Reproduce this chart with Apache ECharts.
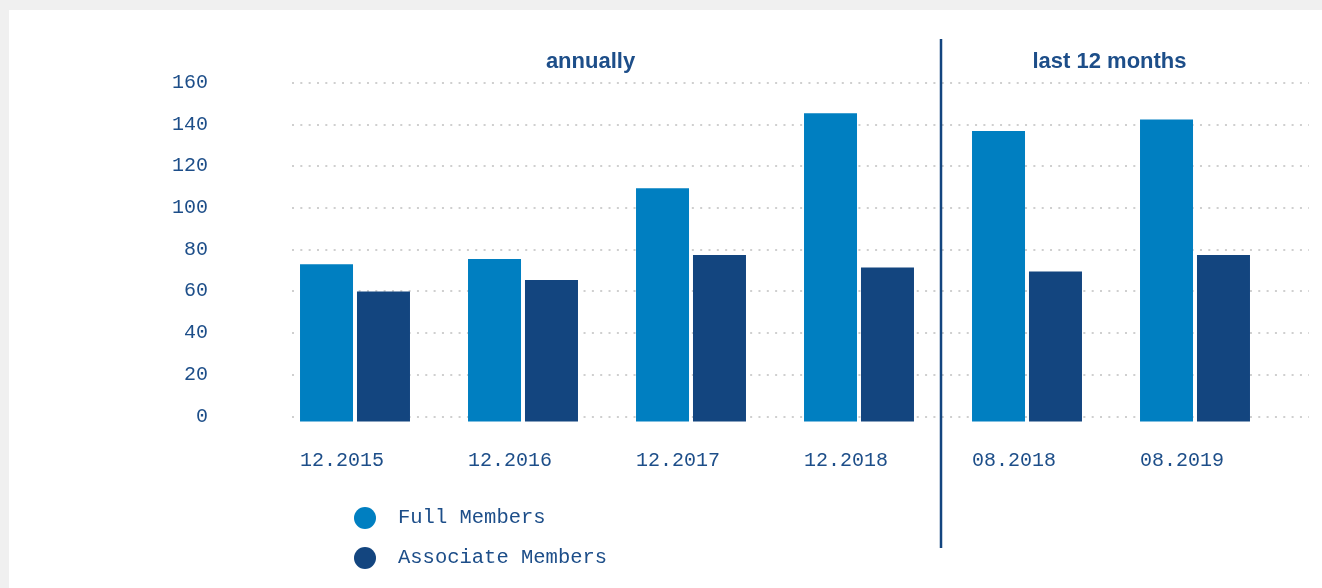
<!DOCTYPE html>
<html>
<head>
<meta charset="utf-8">
<script src="https://cdn.jsdelivr.net/npm/echarts@6/dist/echarts.min.js"></script>
<style>
  html, body { margin: 0; padding: 0; background: #f0f0f0; width: 1322px; height: 588px; overflow: hidden; }
  #panel { position: absolute; left: 9px; top: 10px; width: 1313px; height: 578px; background: #ffffff; }
  #chart { position: absolute; left: 0; top: 0; width: 1322px; height: 588px; }
</style>
</head>
<body>
<div id="panel"></div>
<div id="chart"></div>
<script>
// ---- data ----
const categories = ['12.2015', '12.2016', '12.2017', '12.2018', '08.2018', '08.2019'];
const fullMembers = [75.5, 78, 112, 148, 139.5, 145];
const associateMembers = [62.5, 68, 80, 74, 72, 80];
const seriesNames = ['Full Members', 'Associate Members'];
const sectionTitles = ['annually', 'last 12 months'];
const yMin = 0, yMax = 160, yStep = 20;

// ---- style ----
const MONO = "'Liberation Mono', 'DejaVu Sans Mono', monospace";
const SANS = "'Liberation Sans', Arial, sans-serif";
const TEXT = '#1d4e89';
const FULL = '#007fc1';
const ASSOC = '#13457f';

const chart = echarts.init(document.getElementById('chart'), null, { renderer: 'canvas' });

chart.setOption({
  backgroundColor: 'transparent',
  animation: false,
  grid: [
    { left: 292, right: 13, top: 82.7, bottom: 171.7, containLabel: false },
    { left: 271, right: 43, top: 88.3, bottom: 166.4, containLabel: false }
  ],
  xAxis: [
    { gridIndex: 0, type: 'category', data: categories, show: false },
    {
      gridIndex: 1, type: 'category', data: categories,
      axisLine: { show: false }, axisTick: { show: false }, splitLine: { show: false },
      axisLabel: {
        color: TEXT, fontFamily: MONO, fontSize: 20, margin: 39.5,
        verticalAlign: 'middle', align: 'center', padding: [0, 26, 0, 0]
      }
    }
  ],
  yAxis: [
    {
      gridIndex: 0, type: 'value', min: yMin, max: yMax, interval: yStep,
      axisLine: { show: false }, axisTick: { show: false },
      axisLabel: { color: TEXT, fontFamily: MONO, fontSize: 20, margin: 84, verticalAlign: 'middle', padding: [3, 0, 0, 0] },
      splitLine: { show: true, lineStyle: { color: '#cfcfcf', width: 2, type: [2, 6.33] } }
    },
    {
      gridIndex: 1, type: 'value', min: yMin, max: yMax, interval: yStep, show: false,
      splitLine: { show: false }
    }
  ],
  legend: {
    orient: 'vertical', left: 354, top: 507, padding: 0,
    icon: 'circle', itemWidth: 22, itemHeight: 22, itemGap: 18,
    data: seriesNames,
    textStyle: { color: TEXT, fontFamily: MONO, fontSize: 20.5, padding: [0, 0, 0, 17] }
  },
  series: [
    {
      name: seriesNames[0], type: 'bar', xAxisIndex: 1, yAxisIndex: 1,
      data: fullMembers, barWidth: 53, barGap: '7.5%',
      itemStyle: { color: FULL }
    },
    {
      name: seriesNames[1], type: 'bar', xAxisIndex: 1, yAxisIndex: 1,
      data: associateMembers, barWidth: 53, barGap: '7.5%',
      itemStyle: { color: ASSOC }
    }
  ],
  graphic: [
    {
      type: 'line', z: 10,
      shape: { x1: 941, y1: 39, x2: 941, y2: 548 },
      style: { stroke: ASSOC, lineWidth: 2.5 }
    },
    {
      type: 'text', x: 590.5, y: 62,
      style: { text: sectionTitles[0], fill: TEXT, font: 'bold 22px ' + SANS, textAlign: 'center', textVerticalAlign: 'middle' }
    },
    {
      type: 'text', x: 1109.5, y: 62,
      style: { text: sectionTitles[1], fill: TEXT, font: 'bold 22px ' + SANS, textAlign: 'center', textVerticalAlign: 'middle' }
    }
  ]
});
</script>
</body>
</html>
